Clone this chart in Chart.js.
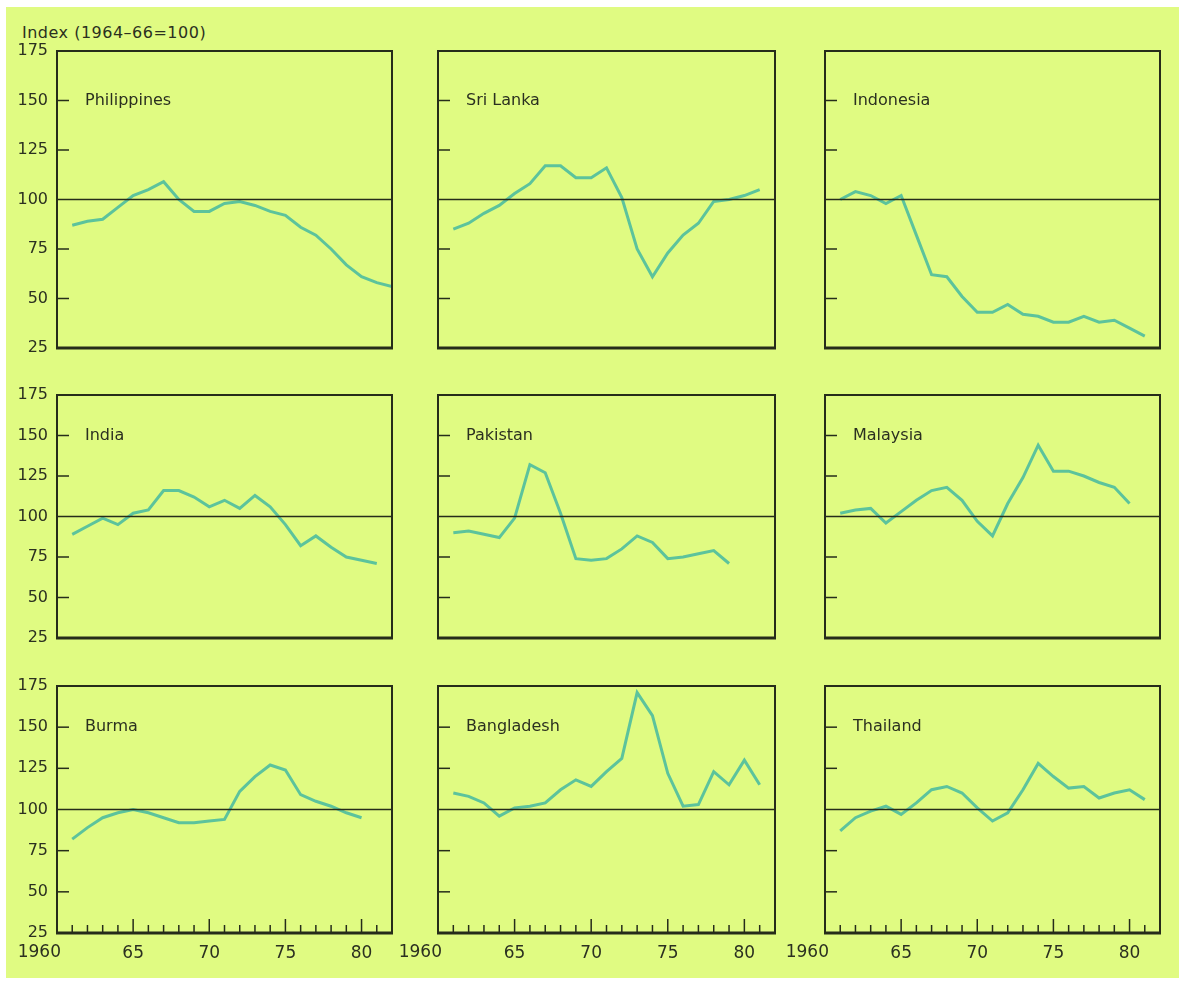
<!DOCTYPE html>
<html>
<head>
<meta charset="utf-8">
<script src="https://cdn.jsdelivr.net/npm/chart.js@4/dist/chart.umd.min.js"></script>
<style>
  html, body { margin: 0; padding: 0; background: #fff; }
  body { width: 1179px; height: 988px; position: relative; overflow: hidden; }
  #paper { position: absolute; left: 6px; top: 7px; width: 1173px; height: 971px; background: #e0fb82; }
  #unit { position: absolute; left: 22px; top: 23px; font: 16px "DejaVu Sans", sans-serif; letter-spacing: 0.5px; color: #2b3020; }
  .panel { position: absolute; }
</style>
</head>
<body>
<div id="paper"></div>
<div id="unit">Index (1964–66=100)</div>

<script>
// years 1961 .. 1982 (null = no data)
const years = [1961, 1962, 1963, 1964, 1965, 1966, 1967, 1968, 1969, 1970, 1971,
               1972, 1973, 1974, 1975, 1976, 1977, 1978, 1979, 1980, 1981, 1982];

const philippines = [87, 89, 90, 96, 102, 105, 109, 100, 94, 94, 98, 99, 97, 94, 92, 86, 82, 75, 67, 61, 58, 56];
const sriLanka    = [85, 88, 93, 97, 103, 108, 117, 117, 111, 111, 116, 101, 75, 61, 73, 82, 88, 99, 100, 102, 105, null];
const indonesia   = [100, 104, 102, 98, 102, 82, 62, 61, 51, 43, 43, 47, 42, 41, 38, 38, 41, 38, 39, 35, 31, null];
const india       = [89, 94, 99, 95, 102, 104, 116, 116, 112, 106, 110, 105, 113, 106, 95, 82, 88, 81, 75, 73, 71, null];
const pakistan    = [90, 91, 89, 87, 99, 132, 127, 102, 74, 73, 74, 80, 88, 84, 74, 75, 77, 79, 71, null, null, null];
const malaysia    = [102, 104, 105, 96, 103, 110, 116, 118, 110, 97, 88, 108, 124, 144, 128, 128, 125, 121, 118, 108, null, null];
const burma       = [82, 89, 95, 98, 100, 98, 95, 92, 92, 93, 94, 111, 120, 127, 124, 109, 105, 102, 98, 95, null, null];
const bangladesh  = [110, 108, 104, 96, 101, 102, 104, 112, 118, 114, 123, 131, 171, 157, 122, 102, 103, 123, 115, 130, 115, null];
const thailand    = [87, 95, 99, 102, 97, 104, 112, 114, 110, 101, 93, 98, 112, 128, 120, 113, 114, 107, 110, 112, 106, null];

const countries = ["Philippines", "Sri Lanka", "Indonesia",
                   "India", "Pakistan", "Malaysia",
                   "Burma", "Bangladesh", "Thailand"];
const series = [philippines, sriLanka, indonesia, india, pakistan, malaysia, burma, bangladesh, thailand];

const yTicks = [25, 50, 75, 100, 125, 150, 175];
const yMarks = [50, 75, 125, 150];
const xLabelYears = [1960, 1965, 1970, 1975, 1980];

// box edges in the page
const rowTop = [51, 395, 686];
const rowBottom = [348, 638, 933];
const colLeft = [57, 438, 825];
const colRight = [392, 775, 1160];

const INK = '#262c1a';
const TEXT = '#2b3020';
const LINE = '#5cc39c';
const FONT = '"DejaVu Sans", sans-serif';
const YAXIS_W = 50, PAD_TOP = 14, PAD_RIGHT = 8;

// frame, ref line at 100, inward ticks, country name
const framePlugin = {
  id: 'frame',
  afterDatasetsDraw(chart, args, opts) {
    const ctx = chart.ctx;
    const a = chart.chartArea;
    const xs = chart.scales.x, ys = chart.scales.y;
    ctx.save();
    ctx.strokeStyle = INK;
    ctx.lineCap = 'butt';

    ctx.lineWidth = 1.5;
    let y100 = ys.getPixelForValue(100);
    ctx.beginPath();
    ctx.moveTo(a.left, y100);
    ctx.lineTo(a.right, y100);
    ctx.stroke();

    yMarks.forEach(v => {
      let py = ys.getPixelForValue(v);
      ctx.beginPath();
      ctx.moveTo(a.left, py);
      ctx.lineTo(a.left + 12, py);
      ctx.stroke();
    });

    if (opts.bottomRow) {
      for (let yr = 1961; yr <= 1981; yr++) {
        let px = xs.getPixelForValue(yr);
        let len = yr % 5 == 0 ? 14 : 8;
        ctx.beginPath();
        ctx.moveTo(px, a.bottom);
        ctx.lineTo(px, a.bottom - len);
        ctx.stroke();
      }
      ctx.fillStyle = TEXT;
      ctx.font = '17px ' + FONT;
      ctx.textAlign = 'right';
      ctx.textBaseline = 'middle';
      ctx.fillText('1960', xs.getPixelForValue(1960) + 4, a.bottom + 20);
    }

    ctx.lineWidth = 2;
    ctx.strokeRect(a.left, a.top, a.right - a.left, a.bottom - a.top);
    ctx.lineWidth = 3;
    ctx.beginPath();
    ctx.moveTo(a.left - 1, a.bottom);
    ctx.lineTo(a.right + 1, a.bottom);
    ctx.stroke();

    ctx.fillStyle = TEXT;
    ctx.font = '16px ' + FONT;
    ctx.textAlign = 'left';
    ctx.textBaseline = 'middle';
    ctx.fillText(opts.name, a.left + 28, ys.getPixelForValue(150));
    ctx.restore();
  }
};

function makePanel(idx) {
  let r = Math.floor(idx / 3), c = idx % 3;
  let bottomRow = r == 2;
  let extra = bottomRow ? 42 : 10;
  let w = colRight[c] - colLeft[c] + YAXIS_W + PAD_RIGHT;
  let h = rowBottom[r] - rowTop[r] + PAD_TOP + extra;

  let div = document.createElement('div');
  div.className = 'panel';
  div.style.left = (colLeft[c] - YAXIS_W) + 'px';
  div.style.top = (rowTop[r] - PAD_TOP) + 'px';
  div.style.width = w + 'px';
  div.style.height = h + 'px';
  let cv = document.createElement('canvas');
  div.appendChild(cv);
  document.body.appendChild(div);

  let vals = series[idx];
  new Chart(cv.getContext('2d'), {
    type: 'line',
    data: {
      datasets: [{
        data: years.map((x, i) => ({x: x, y: vals[i]})),
        borderColor: LINE,
        borderWidth: 3,
        pointRadius: 0,
        tension: 0,
        spanGaps: false
      }]
    },
    options: {
      responsive: true,
      maintainAspectRatio: false,
      animation: false,
      events: [],
      layout: { padding: { top: PAD_TOP, right: PAD_RIGHT, left: 0, bottom: 0 } },
      plugins: {
        legend: { display: false },
        tooltip: { enabled: false },
        frame: { name: countries[idx], bottomRow: bottomRow }
      },
      scales: {
        x: {
          type: 'linear',
          min: 1960,
          max: 1982,
          afterFit: s => {
            s.height = extra;
            s.paddingLeft = 0;
            s.paddingRight = 0;
          },
          grid: { display: false, drawTicks: false },
          border: { display: false },
          afterBuildTicks: s => { s.ticks = xLabelYears.map(v => ({value: v})); },
          ticks: {
            display: bottomRow,
            autoSkip: false,
            maxRotation: 0,
            padding: 10,
            color: TEXT,
            font: { family: FONT, size: 17 },
            callback: v => v == 1960 ? '' : String(v).slice(2)
          }
        },
        y: {
          min: 25,
          max: 175,
          afterFit: s => {
            s.width = YAXIS_W;
            s.paddingTop = 0;
            s.paddingBottom = 0;
          },
          grid: { display: false, drawTicks: false },
          border: { display: false },
          afterBuildTicks: s => { s.ticks = yTicks.map(v => ({value: v})); },
          ticks: {
            display: c == 0,
            padding: 9,
            color: TEXT,
            font: { family: FONT, size: 16 }
          }
        }
      }
    },
    plugins: [framePlugin]
  });
}

for (let i = 0; i < 9; i++) makePanel(i);
</script>
</body>
</html>
